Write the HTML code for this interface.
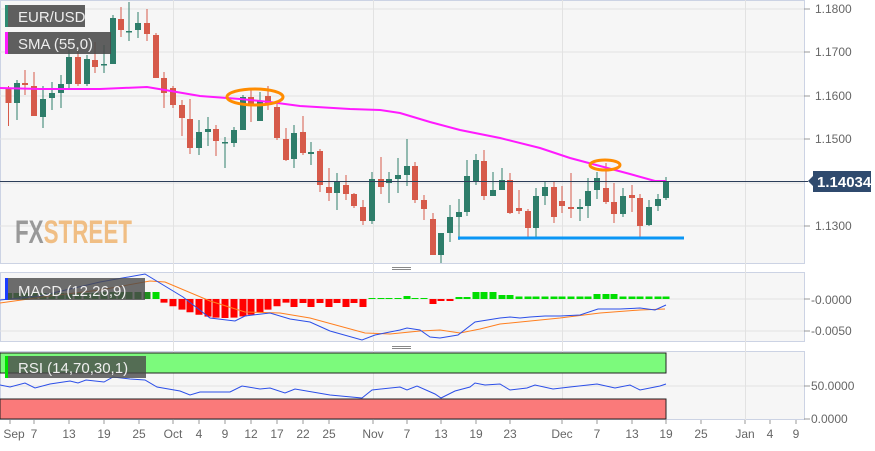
<!DOCTYPE html>
<html><head><meta charset="utf-8"><style>
html,body{margin:0;padding:0;background:#fff;}
body{width:875px;height:446px;overflow:hidden;font-family:"Liberation Sans",sans-serif;}
svg text{font-family:"Liberation Sans",sans-serif;}
</style></head><body>
<svg id="s" width="875" height="446" xmlns="http://www.w3.org/2000/svg">
<rect x="0" y="0" width="875" height="446" fill="#fff"/>
<rect x="0.5" y="0.5" width="804" height="263" fill="#f6f6f6" stroke="#ccd3e4"/>
<rect x="0.5" y="272.5" width="804" height="69" fill="#f6f6f6" stroke="#ccd3e4"/>
<rect x="0.5" y="351.5" width="804" height="68" fill="#f6f6f6" stroke="#ccd3e4"/>
<g stroke="#e2e2e2" stroke-width="1">
<line x1="0" y1="9" x2="804" y2="9"/><line x1="0" y1="52" x2="804" y2="52"/><line x1="0" y1="96" x2="804" y2="96"/>
<line x1="0" y1="139" x2="804" y2="139"/><line x1="0" y1="183" x2="804" y2="183"/><line x1="0" y1="226" x2="804" y2="226"/>
<line x1="0" y1="299" x2="804" y2="299"/><line x1="0" y1="331" x2="804" y2="331"/>
<line x1="0" y1="386" x2="804" y2="386"/>
<line x1="173.5" y1="0" x2="173.5" y2="420"/><line x1="373.5" y1="0" x2="373.5" y2="420"/>
<line x1="562.5" y1="0" x2="562.5" y2="420"/><line x1="745.5" y1="0" x2="745.5" y2="420"/>
</g>
<g stroke="#888" stroke-width="1"><line x1="392" y1="267.5" x2="411" y2="267.5"/><line x1="392" y1="269.5" x2="411" y2="269.5"/>
<line x1="392" y1="346.5" x2="411" y2="346.5"/><line x1="392" y1="348.5" x2="411" y2="348.5"/></g>
<text x="15" y="243" font-size="32" font-weight="bold" fill="#8f8f8f" opacity="0.9" transform="translate(15,0) scale(0.7,1) translate(-15,0)">FX<tspan fill="#f0b878">STREET</tspan></text>
<g id="candles"></g>
<polyline fill="none" stroke="#ff1aff" stroke-width="2" points="0,88 40,89 100,89 147,87 165,90 200,96 240,99 270,102 300,106 350,109 380,110 400,113 430,122 460,130 500,138 540,148 570,158 600,166 630,174 655,181 666,181"/>
<ellipse cx="255" cy="97" rx="28" ry="8" fill="none" stroke="#ff8c00" stroke-width="3"/>
<ellipse cx="605" cy="165" rx="15" ry="5" fill="none" stroke="#ff8c00" stroke-width="3"/>
<line x1="458" y1="238" x2="684" y2="238" stroke="#0a96f5" stroke-width="3"/>
<line x1="0" y1="181.5" x2="808" y2="181.5" stroke="#2c3e5a" stroke-width="1"/>
<g font-size="12" fill="#666">
<text x="815" y="13">1.1800</text><text x="815" y="56">1.1700</text><text x="815" y="100">1.1600</text>
<text x="815" y="143">1.1500</text><text x="815" y="230">1.1300</text>
<text x="811" y="304">-0.0000</text><text x="811" y="335">-0.0050</text>
<text x="811" y="390">50.0000</text><text x="811" y="423">0.0000</text>
</g>
<g stroke="#999"><line x1="804" y1="9" x2="810" y2="9"/><line x1="804" y1="52" x2="810" y2="52"/><line x1="804" y1="96" x2="810" y2="96"/><line x1="804" y1="139" x2="810" y2="139"/><line x1="804" y1="226" x2="810" y2="226"/><line x1="804" y1="299" x2="810" y2="299"/><line x1="804" y1="331" x2="810" y2="331"/><line x1="804" y1="386" x2="810" y2="386"/><line x1="804" y1="419" x2="810" y2="419"/></g>
<path d="M808,181 L813,176 L813,171 L871,171 L871,192 L813,192 L813,186 Z" fill="#2f4a6e"/>
<text x="817" y="187" font-size="15" font-weight="bold" fill="#fff">1.14034</text>
<g id="hist"></g>
<polyline fill="none" stroke="#ff7f1f" stroke-width="1" points="0,303 50,296 100,290 150,281 165,282 210,301 245,312 280,313 310,318 365,333 390,334 420,331 440,330 460,333 480,329 500,324 560,318 600,313 640,310 665,309"/>
<polyline fill="none" stroke="#2b4ee8" stroke-width="1" points="0,300 40,296 100,282 145,274 183,297 210,318 235,321 245,316 270,313 290,319 310,322 330,331 362,340 375,335 400,330 407,328 420,330 430,337 440,338 458,335 475,322 500,318 510,317 520,318 530,317 545,316 560,316 580,315 598,309 620,309 640,308 655,310 666,305"/>
<rect x="0" y="353" width="666" height="20" fill="#7cfa7c" stroke="#222" stroke-width="1"/>
<rect x="0" y="399" width="666" height="20" fill="#fa7a7a" stroke="#222" stroke-width="1"/>
<polyline fill="none" stroke="#2b4ee8" stroke-width="1" points="0,385 10,387 25,383 35,388 50,384 70,381 78,383 86,380 104,382 113,377 130,379 145,380 157,387 180,391 190,395 200,392 230,392 242,386 260,389 270,388 285,393 295,389 330,395 362,398 372,390 400,387 407,390 417,386 435,394 441,398 455,391 470,387 475,383 485,385 500,384 510,390 527,388 535,385 553,389 570,387 597,384 615,388 630,385 640,390 660,386 666,384"/>
<rect x="5" y="5" width="80" height="22" fill="#4a4a4a" opacity="0.88"/><rect x="5" y="5" width="3" height="22" fill="#2e8b72"/>
<text x="18" y="22" font-size="15" fill="#eee">EUR/USD</text>
<rect x="5" y="32" width="106" height="22" fill="#4a4a4a" opacity="0.88"/><rect x="5" y="32" width="3" height="22" fill="#ff1aff"/>
<text x="18" y="49" font-size="15" fill="#eee">SMA (55,0)</text>
<rect x="5" y="278" width="140" height="22" fill="#4a4a4a" opacity="0.8"/><rect x="5" y="278" width="3" height="22" fill="#1a3cff"/>
<text x="18" y="296" font-size="15" fill="#eee">MACD (12,26,9)</text>
<rect x="5" y="356" width="141" height="22" fill="#4a4a4a" opacity="0.8"/><rect x="5" y="356" width="3" height="22" fill="#00e000"/>
<text x="18" y="373" font-size="15" fill="#eee">RSI (14,70,30,1)</text>
<g font-size="12" fill="#666" text-anchor="middle" id="dates"></g>
</svg>
<script>
var C=[[8.5,88,103,86,126,0],[17,83,103,80,120,1],[25,83,85,70,95,0],[34,86,116,72,116,0],[43,99,117,86,128,1],[52,93,98,82,110,1],[61,84,93,75,108,1],[69,57,84,50,90,1],[78,57,84,50,86,0],[87,59,84,55,86,1],[95,60,67,42,73,0],[104,64,65,45,73,1],[113,18,64,15,64,1],[121,19,30,7,37,0],[129,31,32,2,41,1],[138,23,30,12,38,1],[147,23,34,9,41,0],[156,35,78,33,78,0],[164,78,93,72,108,0],[173,88,105,86,108,0],[182,105,118,100,136,0],[190,119,148,99,154,0],[199,132,148,120,155,1],[208,129,132,117,146,1],[216,129,141,125,156,0],[225,142,143,137,168,1],[234,130,143,127,147,1],[243,97,130,95,130,1],[251,97,104,90,122,0],[260,101,121,92,120,1],[268,96,104,86,110,0],[277,107,138,104,140,0],[286,139,160,128,161,0],[294,133,159,125,168,1],[303,132,153,116,155,0],[311,152,154,142,165,1],[320,151,185,149,192,0],[329,187,193,168,201,0],[337,181,193,173,210,1],[346,185,194,175,200,0],[354,194,206,193,208,0],[363,207,221,200,225,0],[372,179,221,172,224,1],[381,179,187,157,194,0],[389,179,183,172,203,1],[398,175,179,158,193,1],[407,166,175,139,186,1],[415,166,200,162,203,0],[424,200,209,195,220,0],[433,219,255,213,255,0],[441,233,255,233,263,1],[450,217,233,205,242,1],[459,212,217,199,240,1],[467,176,212,160,216,1],[476,160,182,154,185,1],[484,161,196,150,200,0],[493,190,196,172,196,1],[502,180,190,168,190,1],[510,180,213,173,214,0],[519,208,211,190,214,0],[528,211,228,209,237,0],[536,196,228,188,237,1],[545,187,196,182,205,1],[554,187,217,182,223,0],[562,201,206,186,213,0],[571,207,209,173,218,0],[580,207,209,199,221,1],[588,191,206,178,218,1],[597,178,190,172,199,1],[606,188,202,163,204,0],[614,202,214,183,223,0],[623,196,214,188,217,1],[632,195,198,185,212,0],[640,198,226,194,237,0],[649,207,225,200,226,1],[658,199,206,194,211,1],[666,182,198,177,200,1]];
var ns="http://www.w3.org/2000/svg",g=document.getElementById('candles'),h=document.getElementById('hist');
function el(p,t,a){var e=document.createElementNS(ns,t);for(var k in a)e.setAttribute(k,a[k]);p.appendChild(e);return e;}
C.forEach(function(c){var col=c[5]?'#2e7d6a':'#d65a4a';
el(g,'line',{x1:c[0],x2:c[0],y1:c[3],y2:c[4],stroke:col,'stroke-width':1});
el(g,'rect',{x:c[0]-3,y:c[1],width:6,height:Math.max(1.5,c[2]-c[1]),fill:col});});
C.forEach(function(c){var x=c[0],v;
if(x<160){v=-6+((x>100)?-1:0);}else if(x<290){var t=(x-160)/130;v=Math.sin(t*Math.PI)*17+2;}
else if(x<370){v=(x%17<8)?8:4;}else if(x<400){v=-1;}else if(x<415){v=-3;}else if(x<425){v=-1;}
else if(x<440){v=5;}else if(x<455){v=2;}else if(x<470){v=-2;}else if(x<495){v=-7;}else if(x<515){v=-4;}else{v=(x>590&&x<620)?-5:-2.5;}
var col=v>0?'#ff0000':'#00dd00';if(x<150)col='#1f8f1f';
el(h,'rect',{x:x-3.5,y:v>0?299:299+v,width:7,height:Math.abs(v),fill:col});});
var D=[["Sep",10],["7",34],["13",69],["19",104],["25",139],["Oct",173],["4",199],["9",225],["12",251],["17",277],["22",303],["25",329],["Nov",373],["7",407],["13",441],["19",476],["23",510],["Dec",562],["7",597],["13",632],["19",666],["25",701],["Jan",745],["4",770],["9",796]];
var dg=document.getElementById('dates');
D.forEach(function(d){var t=el(dg,'text',{x:d[0]=="Sep"?14:d[1],y:438});t.textContent=d[0];el(dg,'line',{x1:d[1],x2:d[1],y1:420,y2:424,stroke:'#999'});});
</script>
</body></html>
